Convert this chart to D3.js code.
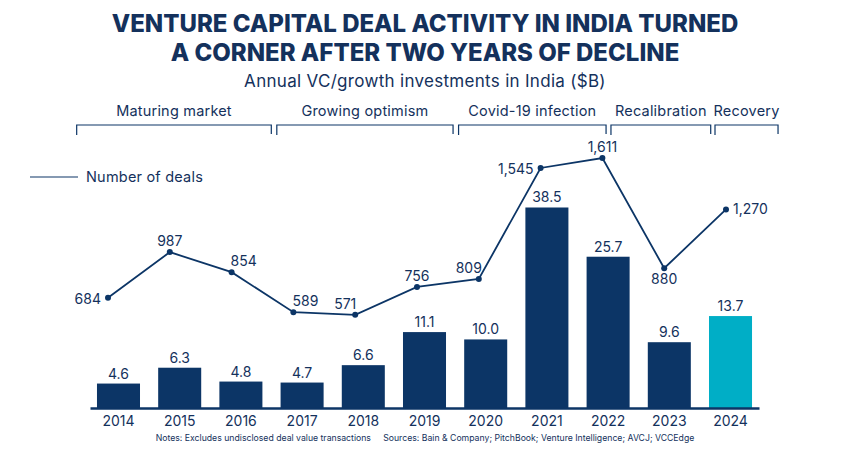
<!DOCTYPE html>
<html lang="en">
<head>
  <meta charset="utf-8" />
  <title>VC deal activity in India</title>
  <script src="https://cdn.jsdelivr.net/npm/d3@7"></script>
  <style>
    body { margin: 0; background: #fff; }
    text { font-family: Inter, "Noto Sans", sans-serif; fill: #14315c; }
  </style>
</head>
<body>
  <script type="text/javascript">
    // chart data
    var years = [2014, 2015, 2016, 2017, 2018, 2019, 2020, 2021, 2022, 2023, 2024];
    var investment = [4.6, 6.3, 4.8, 4.7, 6.6, 11.1, 10.0, 38.5, 25.7, 9.6, 13.7];
    var deals = [684, 987, 854, 589, 571, 756, 809, 1545, 1611, 880, 1270];
    var dealLabelPos = ["left", "above", "aboveRight", "aboveRight", "aboveLeft", "above",
      "aboveLeft", "left", "above", "below", "right"];

    var periods = ["Maturing market", "Growing optimism", "Covid-19 infection", "Recalibration", "Recovery"];
    var periodStart = [2013.32, 2016.59, 2019.56, 2022.05, 2023.75];
    var periodEnd = [2016.5, 2019.47, 2021.97, 2023.68, 2024.78];

    var width = 850, height = 450;
    var navy = "#0c3566", teal = "#00aec6";

    var svg = d3.select("body").append("svg").attr("width", width).attr("height", height);

    var x = d3.scaleBand().domain(years).range([90, 759]).paddingInner(0.297).paddingOuter(0.114);
    var xLine = d3.scalePoint().domain(years).range([108, 726]);
    var xYear = d3.scaleLinear().domain([2014, 2024]).range([118.3, 730.3]);
    var yBar = d3.scaleSqrt().domain([2.5, 40]).range([408, 202.3]);
    var yLine = d3.scaleLinear().domain([0, 1611]).range([401, 158]);

    // titles
    svg.append("text").attr("x", width / 2).attr("y", 32).attr("text-anchor", "middle")
      .style("font-size", "24px").style("font-weight", 800).text("VENTURE CAPITAL DEAL ACTIVITY IN INDIA TURNED");
    svg.append("text").attr("x", width / 2).attr("y", 61).attr("text-anchor", "middle")
      .style("font-size", "24px").style("font-weight", 800).text("A CORNER AFTER TWO YEARS OF DECLINE");
    svg.append("text").attr("x", width / 2).attr("y", 87).attr("text-anchor", "middle")
      .style("font-size", "17px").style("letter-spacing", "0.3px")
      .text("Annual VC/growth investments in India ($B)");

    // period brackets
    var brackets = svg.append("g").selectAll("g").data(periods).enter().append("g");
    brackets.append("path")
      .attr("d", function(d, i) {
        var a = xYear(periodStart[i]), b = xYear(periodEnd[i]);
        return "M" + a + ",135V125H" + b + "V134";
      })
      .attr("fill", "none").attr("stroke", navy).attr("stroke-width", 1.2);
    brackets.append("text")
      .attr("x", function(d, i) { return (xYear(periodStart[i]) + xYear(periodEnd[i])) / 2; })
      .attr("y", 116).attr("text-anchor", "middle")
      .style("font-size", "14.5px").style("letter-spacing", "0.2px")
      .text(function(d) { return d; });

    // legend
    svg.append("line").attr("x1", 30).attr("x2", 78).attr("y1", 177).attr("y2", 177)
      .attr("stroke", navy).attr("stroke-width", 1.2);
    svg.append("text").attr("x", 86).attr("y", 182)
      .style("font-size", "14.5px").style("letter-spacing", "0.2px").text("Number of deals");

    // bars
    svg.append("g").selectAll("rect").data(years).enter().append("rect")
      .attr("x", function(d) { return x(d); })
      .attr("width", x.bandwidth())
      .attr("y", function(d, i) { return yBar(investment[i]); })
      .attr("height", function(d, i) { return 408 - yBar(investment[i]); })
      .attr("fill", function(d, i) { return i == years.length - 1 ? teal : navy; });

    svg.append("g").selectAll("text").data(years).enter().append("text")
      .attr("x", function(d) { return x(d) + x.bandwidth() / 2; })
      .attr("y", function(d, i) { return yBar(investment[i]) - 5; })
      .attr("text-anchor", "middle").style("font-size", "14px")
      .text(function(d, i) { return investment[i].toFixed(1); });

    // x axis
    var axis = svg.append("g").attr("transform", "translate(0,408)")
      .call(d3.axisBottom(x).tickSize(0).tickSizeOuter(0).tickPadding(8));
    axis.select(".domain").attr("stroke", navy).attr("stroke-width", 2.5);
    axis.selectAll("text").style("font-size", "14px").style("font-family", "Inter, sans-serif")
      .attr("fill", "#14315c");

    // deals line
    var line = d3.line()
      .x(function(d) { return xLine(d); })
      .y(function(d, i) { return yLine(deals[i]); });
    svg.append("path").datum(years).attr("d", line)
      .attr("fill", "none").attr("stroke", navy).attr("stroke-width", 1.8);
    svg.append("g").selectAll("circle").data(years).enter().append("circle")
      .attr("cx", function(d) { return xLine(d); })
      .attr("cy", function(d, i) { return yLine(deals[i]); })
      .attr("r", 3).attr("fill", navy);

    var offs = {
      left: [-7, 1, "end"], right: [7, 0, "start"], above: [0, -11, "middle"],
      below: [0, 11, "middle"], aboveRight: [12, -11, "middle"], aboveLeft: [-10, -11, "middle"]
    };
    svg.append("g").selectAll("text").data(years).enter().append("text")
      .attr("x", function(d, i) { return xLine(d) + offs[dealLabelPos[i]][0]; })
      .attr("y", function(d, i) { return yLine(deals[i]) + offs[dealLabelPos[i]][1]; })
      .attr("dy", "0.35em")
      .attr("text-anchor", function(d, i) { return offs[dealLabelPos[i]][2]; })
      .style("font-size", "14px")
      .text(function(d, i) { return d3.format(",")(deals[i]); });

    // footnote
    svg.append("text").attr("x", width / 2).attr("y", 441).attr("text-anchor", "middle")
      .style("font-size", "8.7px").attr("xml:space", "preserve")
      .text("Notes: Excludes undisclosed deal value transactions     Sources: Bain & Company; PitchBook; Venture Intelligence; AVCJ; VCCEdge");
  </script>
</body>
</html>
